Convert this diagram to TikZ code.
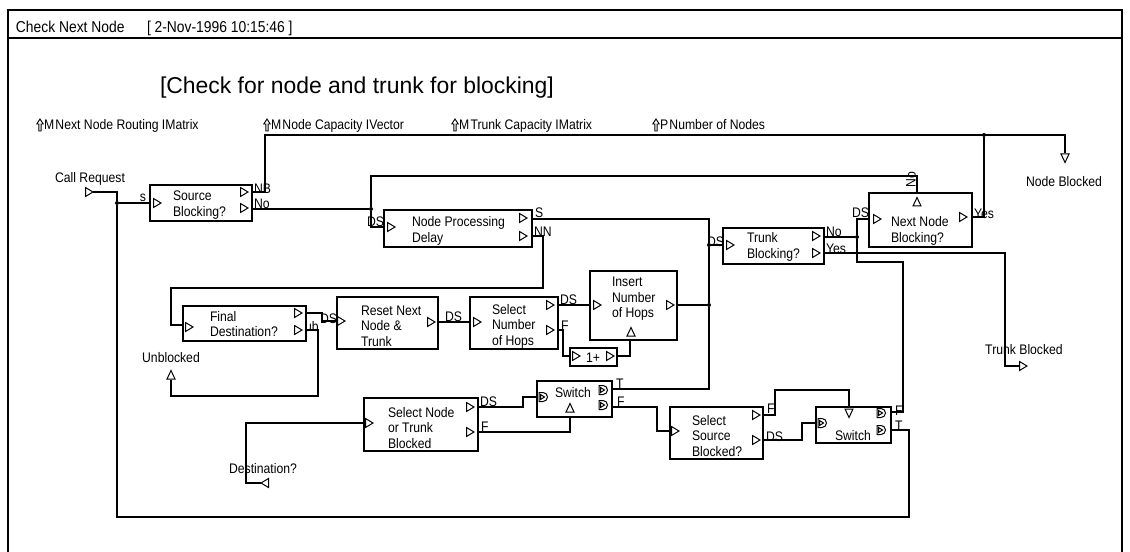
\documentclass[tikz,border=0pt]{standalone}
\usepackage{fontspec}
\setmainfont{Liberation Sans}[FakeStretch=0.88]
\newfontfamily\titlefont{Liberation Sans}
\usetikzlibrary{fit}
\begin{document}
\begin{tikzpicture}[x=0.75pt,y=-0.75pt,
  every node/.style={inner sep=0pt,outer sep=0pt},
  txt/.style={font=\fontsize{10.4}{11.6}\selectfont},
  lb/.style={txt,anchor=base west},
  lc/.style={txt,anchor=base},
  boxtxt/.style={txt,align=left,anchor=west},
  blk/.style={draw,line width=1pt},
  wire/.style={line width=0.9pt},
  port/.style={line width=0.75pt},
  dot/.style={fill,circle,minimum size=3pt},
  pr/.pic={\draw[port] (-3.5,-4.5) -- (4,0) -- (-3.5,4.5) -- cycle;},
  pl/.pic={\draw[port] (3.5,-4.5) -- (-4,0) -- (3.5,4.5) -- cycle;},
  pu/.pic={\draw[port] (-4,4) -- (0,-4.5) -- (4,4) -- cycle;},
  pd/.pic={\draw[port] (-4,-4) -- (0,4.5) -- (4,-4) -- cycle;},
  pD/.pic={\draw[port] (-4,-4.5) -- (0,-4.5) arc(-90:90:4.5) -- (-4,4.5) -- cycle;
           \draw[port] (-2.5,-2.5) -- (1.5,0) -- (-2.5,2.5) -- cycle;},
  parm/.pic={\draw[line width=0.7pt] (-1.2,0) -- (-1.2,-7) -- (-3.2,-7) -- (0,-12) -- (3.2,-7) -- (1.2,-7) -- (1.2,0) -- cycle;}
]
\useasboundingbox (0,0) rectangle (1130,552);

% frame
\draw[line width=0.9pt] (8,552) -- (8,10) -- (1122,10) -- (1122,552);
\draw[line width=0.9pt] (8,38) -- (1122,38);
\node[anchor=base west,font=\fontsize{11.8}{13}\selectfont] (hdr1) at (16,33) {Check Next Node};
\node[anchor=base west,font=\fontsize{11.8}{13}\selectfont] (hdr2) at (147,33) {[ 2-Nov-1996 10:15:46 ]};
\node[anchor=base west,font=\titlefont\fontsize{17.2}{20}\selectfont] (title) at (160,94) {[Check for node and trunk for blocking]};

% parameters
\pic at (40,131) {parm};
\node[lb] (p1) at (44,130) {M\kern1pt Next Node Routing IMatrix};
\pic at (267,131) {parm};
\node[lb] (p2) at (271,130) {M\kern1pt Node Capacity IVector};
\pic at (455,131) {parm};
\node[lb] (p3) at (459,130) {M\kern1pt Trunk Capacity IMatrix};
\pic at (656,131) {parm};
\node[lb] (p4) at (660,130) {P\kern1pt Number of Nodes};

% blocks
\node[blk,fit={(150,185)(252,221)}] (src) {};
\node[blk,fit={(384,210)(532,247)}] (npd) {};
\node[blk,fit={(723,228)(824,264)}] (trk) {};
\node[blk,fit={(869,193)(972,247)}] (nnb) {};
\node[blk,fit={(183,306)(306,341)}] (fin) {};
\node[blk,fit={(337,297)(438,349)}] (rst) {};
\node[blk,fit={(470,297)(558,349)}] (snh) {};
\node[blk,fit={(590,271)(677,340)}] (ins) {};
\node[blk,fit={(570,348)(617,366)}] (one) {};
\node[blk,fit={(537,381)(612,417)}] (sw1) {};
\node[blk,fit={(364,398)(478,451)}] (snt) {};
\node[blk,fit={(670,407)(763,459)}] (ssb) {};
\node[blk,fit={(816,407)(891,443)}] (sw2) {};

% block texts
\node[boxtxt] at (173,205) {Source\\Blocking?};
\node[boxtxt] at (412,231) {Node Processing\\Delay};
\node[boxtxt] at (747,247) {Trunk\\Blocking?};
\node[boxtxt] at (891,231) {Next Node\\Blocking?};
\node[boxtxt] at (210,324) {Final\\Destination?};
\node[boxtxt] at (361,326) {Reset Next\\Node \&\\Trunk};
\node[boxtxt] at (492,326) {Select\\Number\\of Hops};
\node[boxtxt] at (612,299) {Insert\\Number\\of Hops};
\node[boxtxt] at (388,428) {Select Node\\or Trunk\\Blocked};
\node[boxtxt] at (692,436) {Select\\Source\\Blocked?};
\node[txt] at (593,358) {1+};
\node[txt] at (573,393) {Switch};
\node[txt] at (853,436) {Switch};

% ports
\pic at (157,203) {pr};
\pic at (244,192) {pr}; \pic at (244,208) {pr};
\pic at (391,227) {pr};
\pic at (523,218) {pr}; \pic at (523,236) {pr};
\pic at (730,245) {pr};
\pic at (816,236) {pr}; \pic at (816,253) {pr};
\pic at (877,219) {pr};
\pic at (963,217) {pr};
\pic at (917,202) {pu};
\pic at (189,327) {pr};
\pic at (298,313) {pr}; \pic at (298,330) {pr};
\pic at (341,321) {pr}; \pic at (431,322) {pr};
\pic at (477,322) {pr};
\pic at (550,305) {pr}; \pic at (550,330) {pr};
\pic at (597,305) {pr}; \pic at (670,305) {pr};
\pic at (631,332) {pu};
\pic at (576,356) {pr}; \pic at (610,356) {pr};
\pic at (543,397) {pD};
\pic at (603,390) {pD}; \pic at (603,405) {pD};
\pic at (570,408) {pu};
\pic at (369,423) {pr};
\pic at (470,407) {pr}; \pic at (470,432) {pr};
\pic at (675,431) {pr};
\pic at (756,415) {pr}; \pic at (756,440) {pr};
\pic at (822,423) {pD};
\pic at (881,413) {pD}; \pic at (881,430) {pD};
\pic at (849,413) {pd};

% external terminals
\node[lc] (crl) at (90,183) {Call Request};
\pic at (89,192) {pr};
\coordinate (cr) at (93,192);
\node[lc] (nbl) at (1064,187) {Node Blocked};
\pic at (1065,158) {pd};
\coordinate (nblk) at (1065,153);
\node[lc] (tbl) at (1024,354) {Trunk Blocked};
\pic at (1023,366) {pr};
\coordinate (tblk) at (1019,366);
\node[lc] (ubl) at (171,362) {Unblocked};
\pic at (171,375) {pu};
\coordinate (unb) at (171,380);
\node[lc] (dsl) at (263,473) {Destination?};
\pic at (265,483) {pl};
\coordinate (dest) at (261,483);

% port labels
\node[lc] at (143,202) {s};
\node[lb] at (254,194) {NB};
\node[lb] at (254,209) {No};
\node[lb] at (367,227) {DS};
\node[lb] at (535,218) {S};
\node[lb] at (534,237) {NN};
\node[lb] at (707,246) {DS};
\node[lb] at (826,237) {No};
\node[lb] at (826,253) {Yes};
\node[lb] at (852,218) {DS};
\node[lb] at (974,219) {Yes};
\node[txt,rotate=90] at (911,180) {No};
\node[lb] at (320,323) {DS};
\node[lb] at (305,331) {ub};
\node[lb] at (445,321) {DS};
\node[lb] at (560,304) {DS};
\node[lb] at (561,330) {F};
\node[lb] at (616,388) {T};
\node[lb] at (617,406) {F};
\node[lb] at (480,406) {DS};
\node[lb] at (481,431) {F};
\node[lb] at (767,413) {F};
\node[lb] at (766,441) {DS};
\node[lb] at (895,415) {F};
\node[lb] at (895,430) {T};

% port coordinates
\coordinate (src-i) at (150,203);
\coordinate (src-nb) at (252,192);
\coordinate (src-no) at (252,209);
\coordinate (npd-i) at (384,227);
\coordinate (npd-s) at (532,219);
\coordinate (npd-nn) at (532,236);
\coordinate (trk-i) at (723,245);
\coordinate (trk-no) at (824,237);
\coordinate (trk-y) at (824,253);
\coordinate (nnb-i) at (869,219);
\coordinate (nnb-y) at (972,217);
\coordinate (nnb-n) at (917,193);
\coordinate (fin-i) at (183,325);
\coordinate (fin-ds) at (306,313);
\coordinate (fin-ub) at (306,330);
\coordinate (rst-i) at (337,321);
\coordinate (rst-o) at (438,322);
\coordinate (snh-i) at (470,322);
\coordinate (snh-ds) at (558,305);
\coordinate (snh-f) at (558,330);
\coordinate (ins-i) at (590,305);
\coordinate (ins-o) at (677,305);
\coordinate (ins-d) at (630,340);
\coordinate (one-i) at (570,356);
\coordinate (one-o) at (617,356);
\coordinate (sw1-i) at (537,397);
\coordinate (sw1-t) at (612,389);
\coordinate (sw1-f) at (612,407);
\coordinate (sw1-d) at (570,417);
\coordinate (snt-i) at (364,423);
\coordinate (snt-ds) at (478,407);
\coordinate (snt-f) at (478,432);
\coordinate (ssb-i) at (670,431);
\coordinate (ssb-f) at (763,415);
\coordinate (ssb-ds) at (763,440);
\coordinate (sw2-i) at (816,423);
\coordinate (sw2-d) at (849,407);
\coordinate (sw2-f) at (891,412);
\coordinate (sw2-t) at (891,430);

% junctions
\node[dot] (j1) at (117,203) {};
\node[dot] (j2) at (371,209) {};
\node[dot] (j3) at (709,245) {};
\node[dot] (j4) at (709,305) {};
\node[dot] (j5) at (857,237) {};
\node[dot] (j6) at (984,135) {};

% wires
\draw[wire] (cr) -- (117,192) -- (j1);
\draw[wire] (j1) -- (src-i);
\draw[wire] (j1) -- (117,517) -- (909,517) |- (sw2-t);
\draw[wire] (src-nb) -- (265,192) -- (265,135) -- (1065,135) -- (nblk);
\draw[wire] (nnb-y) -- (984,217) -- (j6);
\draw[wire] (src-no) -- (j2);
\draw[wire] (j2) -- (371,176) -- (917,176) -- (nnb-n);
\draw[wire] (j2) -- (371,227) -- (npd-i);
\draw[wire] (npd-s) -- (709,219) -- (j3);
\draw[wire] (j3) -- (trk-i);
\draw[wire] (j3) -- (j4);
\draw[wire] (j4) -- (709,389) -- (sw1-t);
\draw[wire] (ins-o) -- (j4);
\draw[wire] (npd-nn) -- (543,236) -- (543,288) -- (171,288) -- (171,325) -- (fin-i);
\draw[wire] (fin-ds) -- (322,313) -- (322,321) -- (rst-i);
\draw[wire] (fin-ub) -- (318,330) -- (318,396) -- (171,396) -- (unb);
\draw[wire] (rst-o) -- (snh-i);
\draw[wire] (snh-ds) -- (ins-i);
\draw[wire] (snh-f) -- (563,330) -- (563,356) -- (one-i);
\draw[wire] (one-o) -- (630,356) -- (ins-d);
\draw[wire] (trk-no) -- (j5);
\draw[wire] (j5) -- (857,219) -- (nnb-i);
\draw[wire] (j5) -- (857,262) -- (903,262) -- (903,412) -- (sw2-f);
\draw[wire] (trk-y) -- (1005,253) -- (1005,366) -- (tblk);
\draw[wire] (sw1-f) -- (657,407) -- (657,431) -- (ssb-i);
\draw[wire] (dest) -- (246,483) -- (246,423) -- (snt-i);
\draw[wire] (snt-ds) -- (523,407) -- (523,397) -- (sw1-i);
\draw[wire] (snt-f) -- (570,432) -- (sw1-d);
\draw[wire] (ssb-f) -- (775,415) -- (775,390) -- (849,390) -- (sw2-d);
\draw[wire] (ssb-ds) -- (802,440) -- (802,423) -- (sw2-i);
\end{tikzpicture}
\end{document}
